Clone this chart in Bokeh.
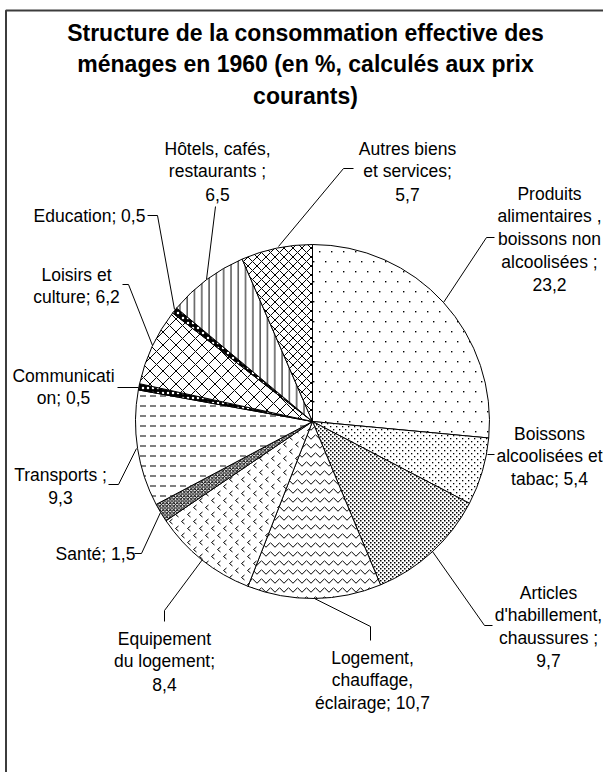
import math
import base64
from bokeh.plotting import figure
from bokeh.models import Range1d, ColumnDataSource, ImageURLTexture
from bokeh.core.properties import value
from bokeh.embed import file_html
from bokeh.resources import INLINE

# ---------------- data ----------------
TITLE_LINES = ["Structure de la consommation effective des",
               "ménages en 1960 (en %, calculés aux prix",
               "courants)"]

CATEGORIES = ["Produits alimentaires, boissons non alcoolisées",
              "Boissons alcoolisées et tabac",
              "Articles d'habillement, chaussures",
              "Logement, chauffage, éclairage",
              "Equipement du logement",
              "Santé",
              "Transports",
              "Communication",
              "Loisirs et culture",
              "Education",
              "Hôtels, cafés, restaurants",
              "Autres biens et services"]

VALUES = [23.2, 5.4, 9.7, 10.7, 8.4, 1.5, 9.3, 0.5, 6.2, 0.5, 6.5, 5.7]

# label wording as wrapped in the chart ({v} = value)
LABEL_TEMPLATES = ["Produits\nalimentaires ,\nboissons non\nalcoolisées ;\n{v}",
                   "Boissons\nalcoolisées et\ntabac; {v}",
                   "Articles\nd'habillement,\nchaussures ;\n{v}",
                   "Logement,\nchauffage,\néclairage; {v}",
                   "Equipement\ndu logement;\n{v}",
                   "Santé; {v}",
                   "Transports ;\n{v}",
                   "Communicati\non; {v}",
                   "Loisirs et\nculture; {v}",
                   "Education; {v}",
                   "Hôtels, cafés,\nrestaurants ;\n{v}",
                   "Autres biens\net services;\n{v}"]

# ---------------- layout (page pixel coordinates) ----------------
CENTER = (312, 421)
RADIUS = 177
LABEL_POS = [(549, 193), (549, 433), (548, 592), (372, 657), (164, 638), (95, 553),
             (60, 474), (63, 375), (76, 274), (89, 215), (217, 148), (407, 148)]
LEADERS = [[(443, 302), (486, 237), (494, 237)],
           [(487, 454), (494, 454)],
           [(432, 551), (484, 625), (492, 625)],
           [(314, 598), (370, 626), (370, 640)],
           [(202, 559), (164, 610), (164, 621)],
           [(160, 512), (141, 553), (134, 553)],
           [(136, 448), (118, 484), (108, 484)],
           [(138, 387), (117, 387)],
           [(152, 345), (128, 284), (122, 284)],
           [(174, 309), (157, 215), (147, 215)],
           [(206, 279), (215, 206)],
           [(278, 246), (343, 168), (353, 168)]]


def svg_tex(w, h, body):
    svg = (f'<svg xmlns="http://www.w3.org/2000/svg" width="{w}" height="{h}">'
           f'{body}</svg>')
    url = "data:image/svg+xml;base64," + base64.b64encode(svg.encode()).decode()
    return ImageURLTexture(url=url)


TEXTURES = {
    "food": svg_tex(12, 20, '<rect x="1" y="1" width="1.4" height="1.4" fill="black"/>'
                            '<rect x="7" y="11" width="1.4" height="1.4" fill="black"/>'),
    "drink": svg_tex(6, 6, '<rect x="0" y="0" width="1.3" height="1.3" fill="black"/>'
                           '<rect x="3" y="3" width="1.3" height="1.3" fill="black"/>'),
    "cloth": svg_tex(4, 4, '<rect x="0" y="0" width="1.5" height="1.5" fill="black"/>'
                           '<rect x="2" y="2" width="1.5" height="1.5" fill="black"/>'),
    "equip": svg_tex(12, 14, '<path d="M4.5,1 L1.5,3.5 L4.5,6 M10.5,8 L7.5,10.5 L10.5,13" '
                             'stroke="black" stroke-width="1" fill="none"/>'),
}

# fill styles (pattern, scale, weight, fill colour, hatch colour)
STYLES = [("food", 12, 1.0, "white", "black"),
          ("drink", 6, 1.0, "white", "black"),
          ("cloth", 4, 1.0, "white", "black"),
          ("v", 9, 1.0, "white", "black"),
          ("equip", 12, 1.0, "white", "black"),
          ("x", 3.5, 1.0, "white", "black"),
          ('"', 10, 1.0, "white", "black"),
          (".", 5, 1.2, "black", "white"),
          ("x", 13, 1.0, "white", "black"),
          (".", 5, 1.2, "black", "white"),
          ("|", 7.3, 1.0, "white", "black"),
          ("x", 9, 1.0, "white", "black")]

FONT = "Liberation Sans"
W, H = 603, 772


def Y(py):
    return H - py


p = figure(width=W, height=H, x_range=Range1d(0, W), y_range=Range1d(0, H),
           output_backend="svg", toolbar_location=None, min_border=0)
p.axis.visible = False
p.grid.visible = False
p.outline_line_color = None
p.background_fill_color = "white"
p.border_fill_color = "white"

# chart border (top and left visible)
p.line(x=[5.5, 5.5, 611], y=[Y(790), Y(10), Y(10)], line_color="#3c3c3c", line_width=2)

# ---------------- pie ----------------
total = sum(VALUES)
starts, ends = [], []
cum = 0.0
for v in VALUES:
    a0 = math.pi / 2 - 2 * math.pi * (cum + v) / total
    a1 = math.pi / 2 - 2 * math.pi * cum / total
    starts.append(a0)
    ends.append(a1)
    cum += v

src = ColumnDataSource(dict(
    x=[CENTER[0]] * len(VALUES), y=[Y(CENTER[1])] * len(VALUES),
    start=starts, end=ends, cat=CATEGORIES, val=VALUES,
    pat=[s[0] for s in STYLES], scale=[s[1] for s in STYLES],
    weight=[s[2] for s in STYLES], fill=[s[3] for s in STYLES],
    hcol=[s[4] for s in STYLES]))

p.wedge(x="x", y="y", radius=RADIUS, start_angle="start", end_angle="end",
        source=src, fill_color="fill", line_color="black", line_width=1,
        hatch_pattern="pat", hatch_scale="scale", hatch_weight="weight",
        hatch_color="hcol", hatch_extra=TEXTURES)

# ---------------- leader lines ----------------
p.multi_line(xs=[[pt[0] for pt in L] for L in LEADERS],
             ys=[[Y(pt[1]) for pt in L] for L in LEADERS],
             line_color="black", line_width=1)

# ---------------- labels ----------------
LH = 22.8
tx, ty, tt = [], [], []
for tmpl, v, (cx, cy) in zip(LABEL_TEMPLATES, VALUES, LABEL_POS):
    txt = tmpl.format(v=f"{v:.1f}".replace(".", ","))
    for i, line in enumerate(txt.split("\n")):
        tx.append(cx)
        ty.append(Y(cy + i * LH))
        tt.append(line)
p.text(x=tx, y=ty, text=tt, text_align="center", text_baseline="middle",
       text_font=value(FONT), text_font_size=value("17.5px"), text_color="black")

# ---------------- title ----------------
title_y = [32, 63, 95]
p.text(x=[305] * 3, y=[Y(v) for v in title_y], text=TITLE_LINES,
       text_align="center", text_baseline="middle", text_font=value(FONT),
       text_font_size=value("23px"), text_font_style="bold", text_color="black")

open("out.html", "w").write(file_html(p, INLINE))
